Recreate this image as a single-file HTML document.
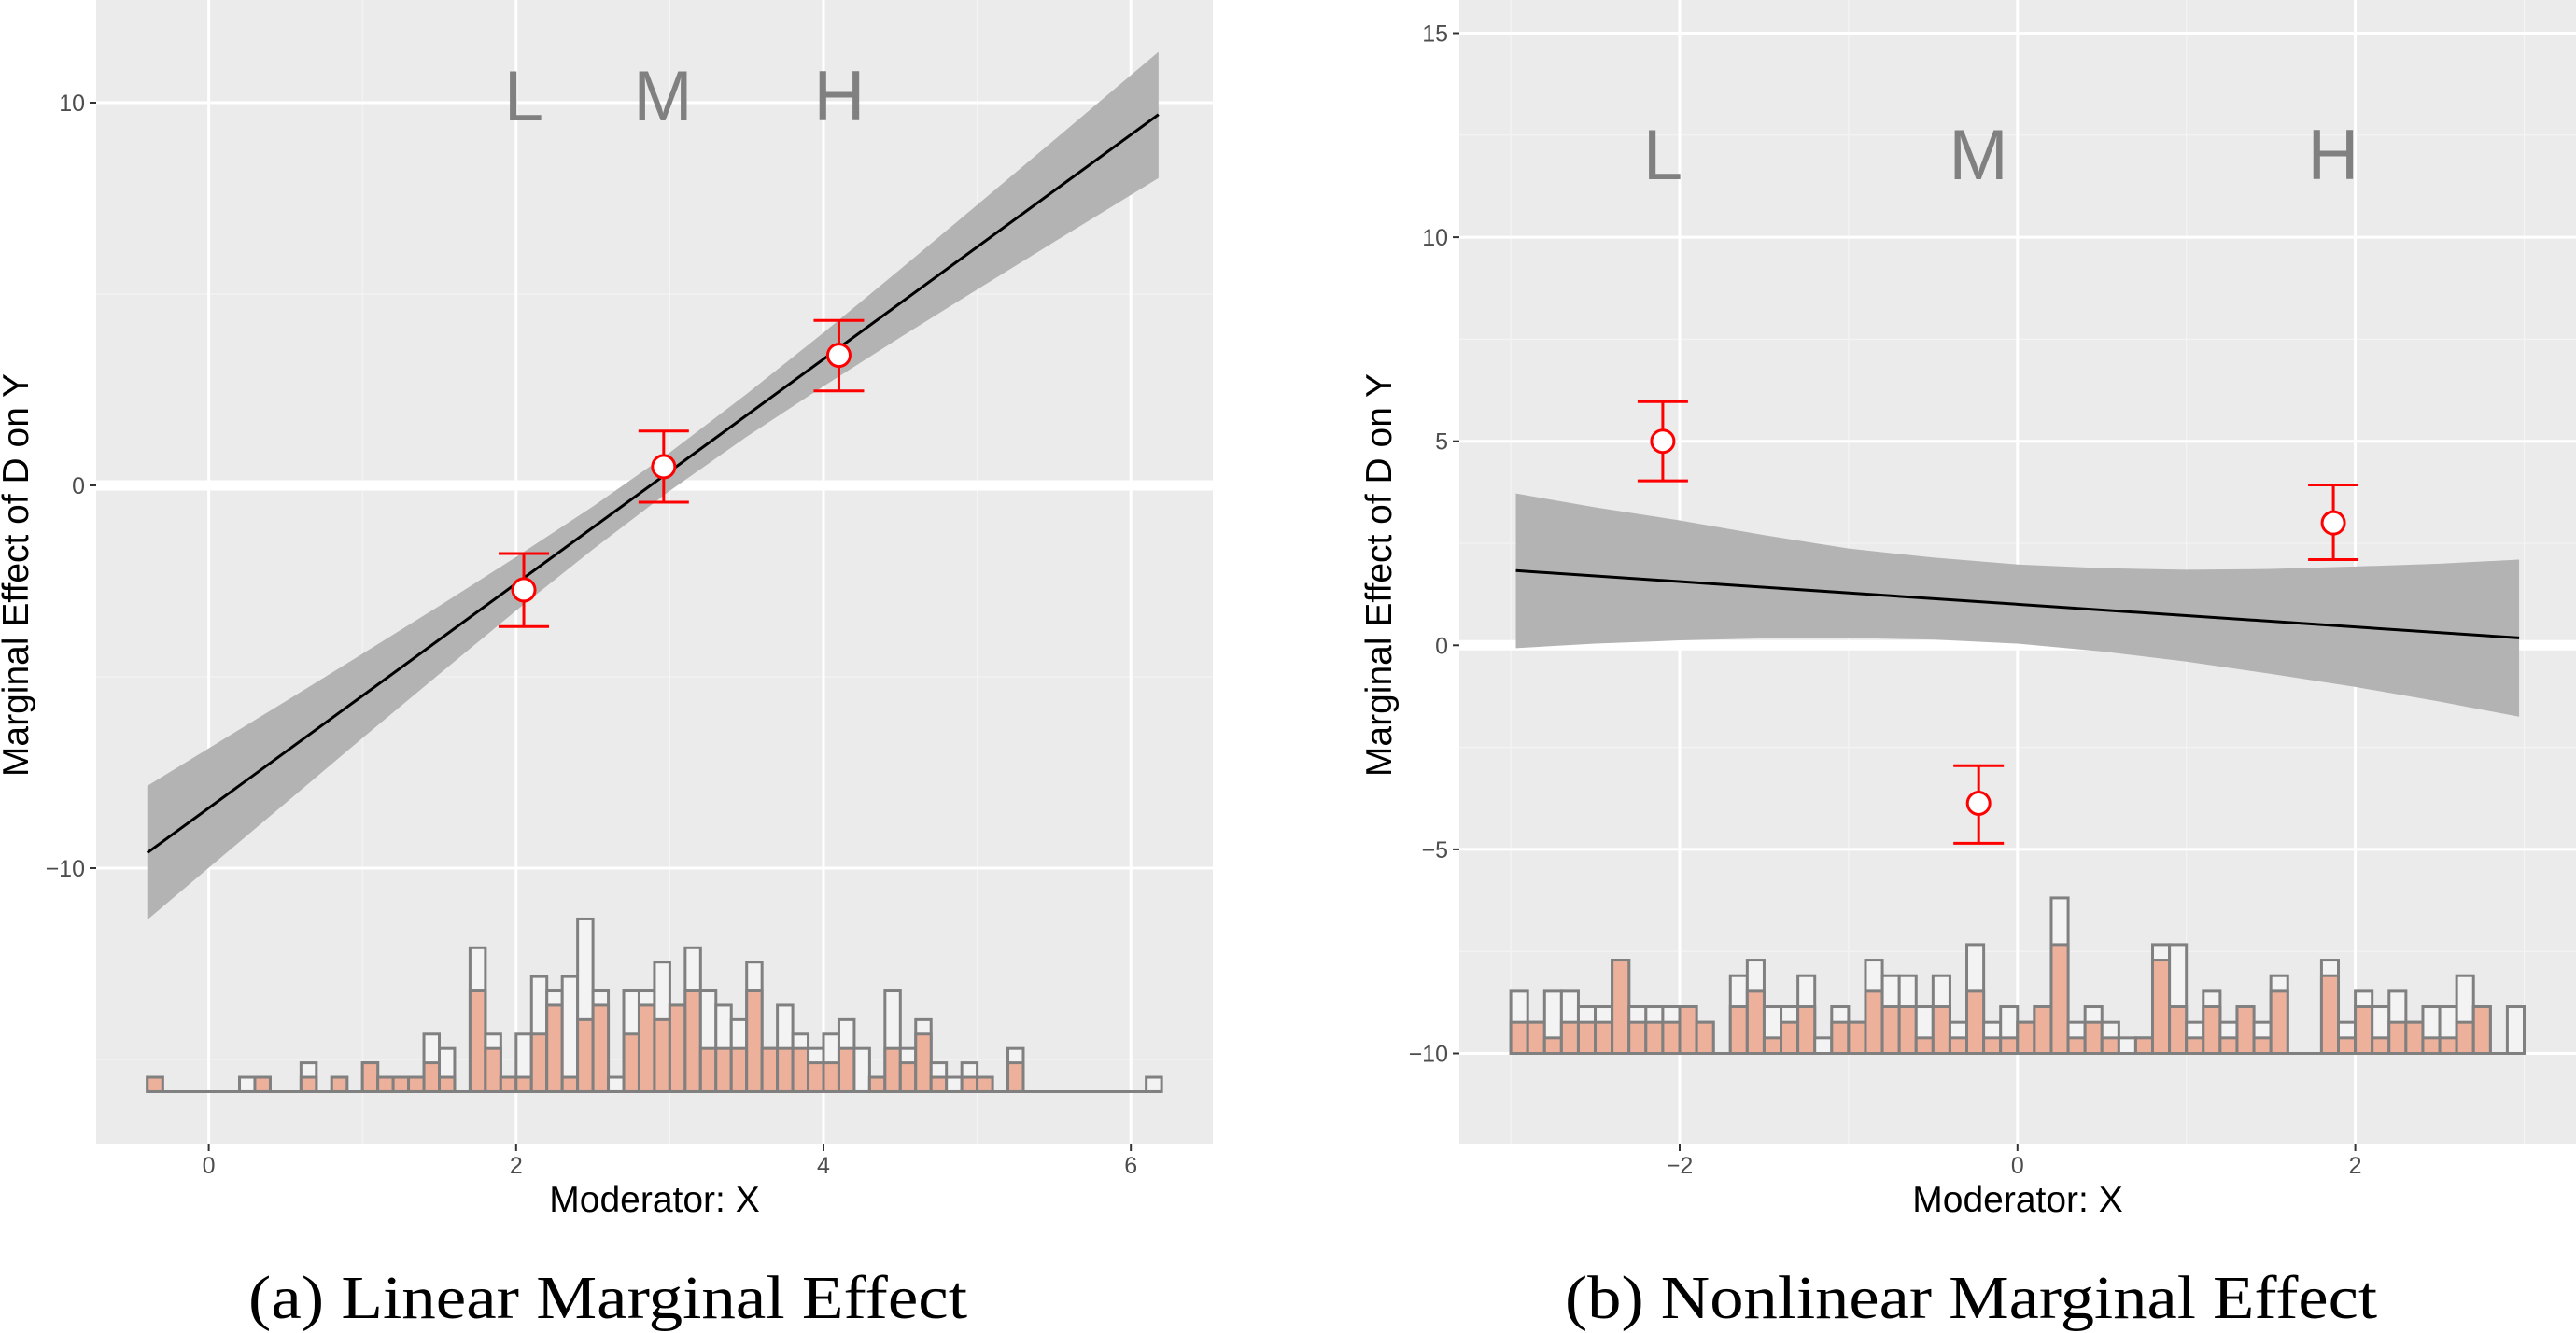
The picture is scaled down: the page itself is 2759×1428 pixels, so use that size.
<!DOCTYPE html>
<html><head><meta charset="utf-8"><style>
html,body{margin:0;padding:0;background:#fff;}
svg{display:block;}
</style></head>
<body>
<svg id="fig" width="2759" height="1428" viewBox="0 0 2759 1428" xmlns="http://www.w3.org/2000/svg" font-family="'Liberation Sans', sans-serif">
<g id="pa"></g>
<g id="pb"></g>
<text x="651" y="1412" text-anchor="middle" font-family="'Liberation Serif', serif" font-size="66" textLength="770" lengthAdjust="spacingAndGlyphs">(a) Linear Marginal Effect</text>
<text x="2111" y="1412" text-anchor="middle" font-family="'Liberation Serif', serif" font-size="66" textLength="870" lengthAdjust="spacingAndGlyphs">(b) Nonlinear Marginal Effect</text>
</svg>
<script>
// ---- Panel A data ----
const aBandX = [-0.4, 0, 0.5, 1, 1.5, 2, 2.5, 3, 3.5, 4, 4.5, 5, 5.5, 6.18];
const aBandLo = [-11.35, -9.99, -8.3, -6.6, -4.93, -3.27, -1.67, -0.14, 1.27, 2.59, 3.87, 5.12, 6.36, 8.03];
const aBandHi = [-7.85, -6.87, -5.64, -4.4, -3.15, -1.87, -0.55, 0.86, 2.39, 3.99, 5.65, 7.33, 9.02, 11.33];
const aLineX = [-0.4, 6.18];
const aLineY = [-9.6, 9.69];
const aPtX = [2.05, 2.96, 4.1];
const aPtY = [-2.73, 0.49, 3.40];
const aPtLo = [-3.69, -0.44, 2.47];
const aPtHi = [-1.78, 1.42, 4.31];
const aBinStart = -0.4;
const aTotal = [1,0,0,0,0,0,1,1,0,0,2,0,1,0,2,1,1,1,4,3,0,10,4,1,4,8,7,8,12,7,1,7,7,9,6,10,7,6,5,9,3,6,4,3,4,5,3,1,7,3,5,2,1,2,1,0,3,0,0,0,0,0,0,0,0,1];
const aTreat = [1,0,0,0,0,0,0,1,0,0,1,0,1,0,2,1,1,1,2,1,0,7,3,1,1,4,6,1,5,6,0,4,6,5,6,7,3,3,3,7,3,3,3,2,2,3,0,1,3,2,4,1,0,1,1,0,2,0,0,0,0,0,0,0,0,0];
const aYTicks = [-10, 0, 10];
const aYTickLabels = ["\u221210", "0", "10"];
const aXTicks = [0, 2, 4, 6];
const aXTickLabels = ["0", "2", "4", "6"];
// ---- Panel B data ----
const bBandX = [-2.97, -2.5, -2, -1.5, -1, -0.5, 0, 0.5, 1, 1.5, 2, 2.5, 2.97];
const bBandLo = [-0.07, 0.04, 0.12, 0.17, 0.18, 0.14, 0.04, -0.15, -0.4, -0.7, -1.02, -1.38, -1.75];
const bBandHi = [3.72, 3.38, 3.06, 2.7, 2.37, 2.15, 1.98, 1.89, 1.85, 1.87, 1.93, 2.0, 2.10];
const bLineX = [-2.97, 2.97];
const bLineY = [1.83, 0.18];
const bPtX = [-2.10, -0.23, 1.87];
const bPtY = [5.0, -3.87, 3.0];
const bPtLo = [4.03, -4.85, 2.1];
const bPtHi = [5.97, -2.95, 3.93];
const bBinStart = -3.0;
const bTotal = [4,2,4,4,3,3,6,3,3,3,3,2,0,5,6,3,3,5,1,3,2,6,5,5,3,5,2,7,2,3,2,3,10,2,3,2,1,1,7,7,2,4,2,3,2,5,0,0,6,2,4,3,4,2,3,3,5,3,0,3];
const bTreat = [2,2,1,2,2,2,6,2,2,2,3,2,0,3,4,1,2,3,0,2,2,4,3,3,1,3,1,4,1,1,2,3,7,1,2,1,0,1,6,3,1,3,1,3,1,4,0,0,5,1,3,1,2,2,1,1,2,3,0,0];
const bYTicks = [-10, -5, 0, 5, 10, 15];
const bYTickLabels = ["\u221210", "\u22125", "0", "5", "10", "15"];
const bXTicks = [-2, 0, 2];
const bXTickLabels = ["\u22122", "0", "2"];

const NS = "http://www.w3.org/2000/svg";
function mk(parent, tag, attrs, text) {
  const e = document.createElementNS(NS, tag);
  for (const k in attrs) e.setAttribute(k, attrs[k]);
  if (text !== undefined) e.textContent = text;
  parent.appendChild(e);
  return e;
}

function drawPanel(g, cfg) {
  const X = v => cfg.x0px + (v - cfg.x0v) * cfg.xs;
  const Y = v => cfg.y0px - (v - cfg.y0v) * cfg.ys;
  let e;
  e = mk(g, "rect", {x: cfg.L, y: 0, width: cfg.R - cfg.L, height: cfg.B, fill: "#EBEBEB"});
  
  
  cfg.minorY.forEach(v => {
    e = mk(g, "line", {x1: cfg.L, x2: cfg.R, y1: Y(v), y2: Y(v), stroke: "#F4F4F4", "stroke-width": 1.2});
    
    
  });
  cfg.minorX.forEach(v => {
    e = mk(g, "line", {x1: X(v), x2: X(v), y1: 0, y2: cfg.B, stroke: "#F4F4F4", "stroke-width": 1.2});
    
    
  });
  cfg.yTicks.forEach((v, i) => {
    e = mk(g, "line", {x1: cfg.L, x2: cfg.R, y1: Y(v), y2: Y(v), stroke: "#FFFFFF", "stroke-width": 3});
    
    
    e = mk(g, "line", {x1: cfg.L - 7, x2: cfg.L, y1: Y(v), y2: Y(v), stroke: "#333", "stroke-width": 2});
    
    
    e = mk(g, "text", {x: cfg.L - 12, y: Y(v) + 9, "text-anchor": "end", "font-size": 25, fill: "#4D4D4D"}, cfg.yTickLabels[i]);
    
    
  });
  cfg.xTicks.forEach((v, i) => {
    e = mk(g, "line", {x1: X(v), x2: X(v), y1: 0, y2: cfg.B, stroke: "#FFFFFF", "stroke-width": 3});
    
    
    e = mk(g, "line", {x1: X(v), x2: X(v), y1: cfg.B, y2: cfg.B + 7, stroke: "#333", "stroke-width": 2});
    
    
    e = mk(g, "text", {x: X(v), y: 1257, "text-anchor": "middle", "font-size": 25, fill: "#4D4D4D"}, cfg.xTickLabels[i]);
    
    
  });
  e = mk(g, "line", {x1: cfg.L, x2: cfg.R, y1: Y(0), y2: Y(0), stroke: "#FFFFFF", "stroke-width": 11});
  
  
  const n = cfg.total.length;
  const hx0 = X(cfg.binStart), hx1 = X(cfg.binStart + n * 0.1);
  e = mk(g, "line", {x1: hx0, x2: hx1, y1: Y(cfg.hBase), y2: Y(cfg.hBase), stroke: "#808080", "stroke-width": 3});
  
  
  for (let i = 0; i < n; i++) {
    const xl = X(cfg.binStart + i * 0.1), xr = X(cfg.binStart + (i + 1) * 0.1);
    if (cfg.total[i] > 0) {
      const yt = Y(cfg.hBase + cfg.total[i] * cfg.hUnit);
      e = mk(g, "rect", {x: xl, y: yt, width: xr - xl, height: Y(cfg.hBase) - yt, fill: "#F3F3F3", stroke: "#808080", "stroke-width": 3});
      
      
    }
    if (cfg.treat[i] > 0) {
      const yt = Y(cfg.hBase + cfg.treat[i] * cfg.hUnit);
      e = mk(g, "rect", {x: xl, y: yt, width: xr - xl, height: Y(cfg.hBase) - yt, fill: "#EDB19B", stroke: "#808080", "stroke-width": 3});
      
      
    }
  }
  let pts = [];
  cfg.bandX.forEach((v, i) => pts.push(X(v) + "," + Y(cfg.bandHi[i])));
  for (let i = cfg.bandX.length - 1; i >= 0; i--) pts.push(X(cfg.bandX[i]) + "," + Y(cfg.bandLo[i]));
  e = mk(g, "polygon", {points: pts.join(" "), fill: "#B3B3B3"});
  
  
  e = mk(g, "line", {x1: X(cfg.lineX[0]), y1: Y(cfg.lineY[0]), x2: X(cfg.lineX[1]), y2: Y(cfg.lineY[1]), stroke: "#000", "stroke-width": 3});
  
  
  cfg.ptX.forEach((v, i) => {
    const cx = X(v);
    e = mk(g, "path", {d: `M${cx},${Y(cfg.ptLo[i])}V${Y(cfg.ptHi[i])}M${cx - 27},${Y(cfg.ptHi[i])}h54M${cx - 27},${Y(cfg.ptLo[i])}h54`, stroke: "#FF0000", "stroke-width": 3, fill: "none"});
    
    
    e = mk(g, "circle", {cx: cx, cy: Y(cfg.ptY[i]), r: 12, fill: "#FFFFFF", stroke: "#FF0000", "stroke-width": 3});
    
    
  });
  ["L", "M", "H"].forEach((t, i) => {
    e = mk(g, "text", {x: cfg.lmhX[i], y: cfg.lmhY, "text-anchor": "middle", "font-size": 76, fill: "#808080"}, t);
    
    
  });
  e = mk(g, "text", {x: (cfg.L + cfg.R) / 2, y: 1298, "text-anchor": "middle", "font-size": 39, fill: "#000"}, "Moderator: X");
  
  
  e = mk(g, "text", {x: 0, y: 0, "text-anchor": "middle", "font-size": 39, fill: "#000", transform: `translate(${cfg.ylabX},616) rotate(-90)`}, "Marginal Effect of D on Y");
  
  
}

drawPanel(document.getElementById("pa"), {
  L: 103, R: 1299, B: 1226,
  x0v: 0, x0px: 223.6, xs: 164.6,
  y0v: 0, y0px: 520, ys: 41,
  minorX: [1, 3, 5], minorY: [-15, -5, 5],
  yTicks: aYTicks, yTickLabels: aYTickLabels, xTicks: aXTicks, xTickLabels: aXTickLabels,
  total: aTotal, treat: aTreat, binStart: aBinStart, hBase: -15.84, hUnit: 0.376,
  bandX: aBandX, bandLo: aBandLo, bandHi: aBandHi, lineX: aLineX, lineY: aLineY,
  ptX: aPtX, ptY: aPtY, ptLo: aPtLo, ptHi: aPtHi,
  lmhX: [561, 710, 899], lmhY: 129, ylabX: 30
});
drawPanel(document.getElementById("pb"), {
  L: 1563, R: 2759, B: 1226,
  x0v: 0, x0px: 2160.8, xs: 180.9,
  y0v: 0, y0px: 691.3, ys: 43.72,
  minorX: [-3, -1, 1, 3], minorY: [-7.5, -2.5, 2.5, 7.5, 12.5],
  yTicks: bYTicks, yTickLabels: bYTickLabels, xTicks: bXTicks, xTickLabels: bXTickLabels,
  total: bTotal, treat: bTreat, binStart: bBinStart, hBase: -10, hUnit: 0.381,
  bandX: bBandX, bandLo: bBandLo, bandHi: bBandHi, lineX: bLineX, lineY: bLineY,
  ptX: bPtX, ptY: bPtY, ptLo: bPtLo, ptHi: bPtHi,
  lmhX: [1781, 2119, 2499], lmhY: 192, ylabX: 1490
});
</script>
</body></html>
